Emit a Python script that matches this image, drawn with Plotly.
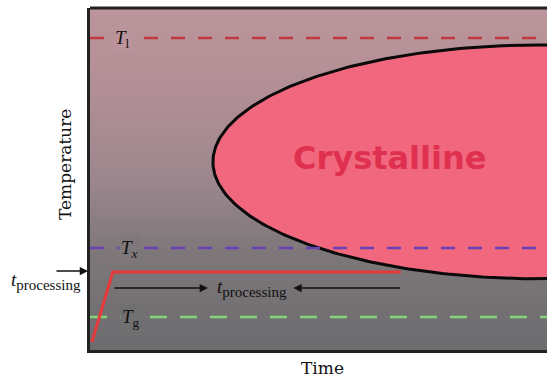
import plotly.graph_objects as go
import numpy as np

# ---- data (abstract units: x 0..10 time, y 0..10 temperature) ----
x_range = [0, 10]
y_range = [0, 10]

T_l = 9.12
T_x = 2.98
T_g = 0.965

proc_x = [0.04, 0.50, 6.80]
proc_y = [0.23, 2.28, 2.28]

ell_cx, ell_cy = 9.85, 5.50
ell_rx, ell_ry = 7.16, 3.42

arrow_y = 1.81
arrow_left = [0.50, 2.58]   # tail, head
arrow_right = [6.82, 4.45]  # tail, head

bg_levels = [0, 2.9, 5.0, 7.5, 10]
bg_colors = ["#6c6c6e", "#7e777a", "#9c878d", "#b18e95", "#bc959c"]

t = np.linspace(0, 2 * np.pi, 400)
ell_x = ell_cx + ell_rx * np.cos(t)
ell_y = ell_cy + ell_ry * np.sin(t)

L, T, W, H = 90, 8, 457, 342  # plot area in pixels


def px(xp):
    return (xp - L) / W


def py(yp):
    return (T + H - yp) / H


fig = go.Figure()

# background gradient
fig.add_trace(go.Heatmap(
    x=x_range, y=bg_levels, z=[[v, v] for v in bg_levels],
    colorscale=[[v / 10, c] for v, c in zip(bg_levels, bg_colors)],
    zmin=0, zmax=10, zsmooth="best", showscale=False, hoverinfo="skip"))

# crystalline region
fig.add_trace(go.Scatter(x=ell_x, y=ell_y, mode="lines", fill="toself",
                         fillcolor="#f0677e", line=dict(color="#0a0a0a", width=3),
                         hoverinfo="skip", showlegend=False))

serif = "Liberation Serif, DejaVu Serif, serif"
wide_serif = "DejaVu Serif, serif"

for yv, col, dash in [(T_l, "#c0393f", "14px,13px"), (T_x, "#6a40b8", "14px,13px"),
                      (T_g, "#84d27a", "17px,13px")]:
    fig.add_trace(go.Scatter(x=x_range, y=[yv, yv], mode="lines",
                             line=dict(color=col, width=2.5, dash=dash),
                             hoverinfo="skip", showlegend=False))

fig.add_trace(go.Scatter(x=proc_x, y=proc_y, mode="lines",
                         line=dict(color="#e8393a", width=3),
                         hoverinfo="skip", showlegend=False))

tproc = '<i>t</i><sub><span style="font-size:15px">processing</span></sub>'

ann = []
for label, yv, xv, bg in [("<i>T</i><sub>l</sub>", T_l, 0.72, "#bb949b"),
                          ("<i>T</i><sub><i>x</i></sub>", T_x, 0.86, "#7f787b"),
                          ("<i>T</i><sub>g</sub>", T_g, 0.90, "#707071")]:
    ann.append(dict(x=xv, y=yv, xref="x", yref="y", text=label, showarrow=False,
                    font=dict(family=serif, size=19, color="#111"), bgcolor=bg,
                    borderpad=1, yshift=-1))

ann.append(dict(x=6.55, y=5.6, xref="x", yref="y", text="<b>Crystalline</b>",
                showarrow=False, font=dict(family="DejaVu Sans, sans-serif", size=32,
                                           color="#e0304f")))

# in-plot arrows
for tail, head in [arrow_left, arrow_right]:
    ann.append(dict(x=head, y=arrow_y, ax=tail, ay=arrow_y, xref="x", yref="y",
                    axref="x", ayref="y", text="", showarrow=True, arrowhead=2,
                    arrowsize=1.1, arrowwidth=1.5, arrowcolor="#111"))
ann.append(dict(x=3.55, y=arrow_y, xref="x", yref="y", text=tproc, showarrow=False,
                font=dict(family=serif, size=19, color="#111")))

# left label with arrow
ann.append(dict(x=px(88), y=py(271), xref="paper", yref="paper", ax=-33, ay=0,
                text="", showarrow=True, arrowhead=2, arrowsize=1.1, arrowwidth=1.5,
                arrowcolor="#111"))
ann.append(dict(x=px(46), y=py(281), xref="paper", yref="paper", text=tproc,
                showarrow=False, yanchor="middle", xanchor="center",
                font=dict(family=serif, size=19, color="#111")))

# axis titles
ann.append(dict(x=px(65), y=py(165), xref="paper", yref="paper",
                text="Temperature", textangle=-90, showarrow=False,
                xanchor="center", yanchor="middle",
                font=dict(family=wide_serif, size=17, color="#111")))
ann.append(dict(x=px(322), y=py(368), xref="paper", yref="paper",
                text="Time", showarrow=False, xanchor="center", yanchor="middle",
                font=dict(family=wide_serif, size=17, color="#111")))

fig.update_layout(
    width=547, height=378,
    margin=dict(l=L, r=0, t=T, b=378 - T - H),
    paper_bgcolor="white", plot_bgcolor="white",
    showlegend=False, annotations=ann,
    xaxis=dict(range=x_range, showgrid=False, zeroline=False, showticklabels=False,
               ticks="", showline=True, linecolor="#222", linewidth=3),
    yaxis=dict(range=y_range, showgrid=False, zeroline=False, showticklabels=False,
               ticks="", showline=True, linecolor="#222", linewidth=3),
    shapes=[dict(type="line", xref="paper", yref="paper", x0=0, x1=1, y0=1, y1=1,
                 line=dict(color="#222", width=3))],
)

fig.write_html("out.html", config={"displayModeBar": False},
               post_script="document.body.style.margin='0';")
